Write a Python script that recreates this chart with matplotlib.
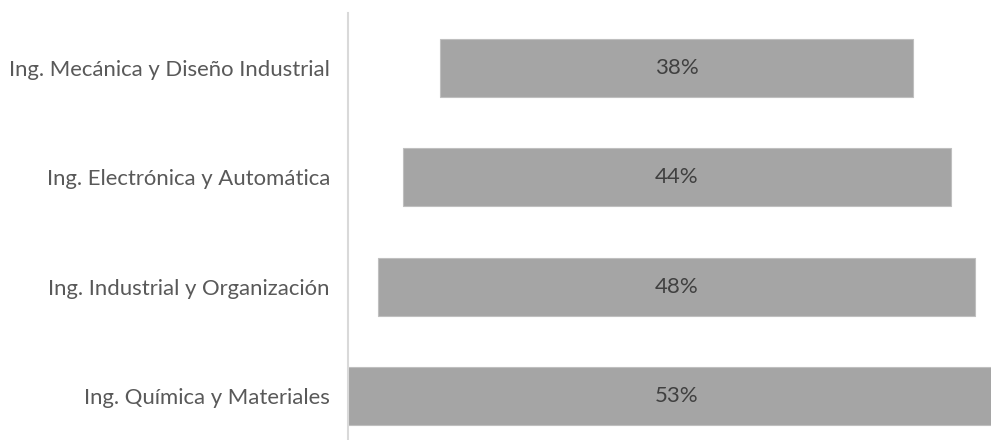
import matplotlib.pyplot as plt

carreras = ['Ing. Química y Materiales', 'Ing. Industrial y Organización',
            'Ing. Electrónica y Automática', 'Ing. Mecánica y Diseño Industrial']
porcentajes = [53, 48, 44, 38]

plt.rcParams['font.family'] = ['Lato', 'DejaVu Sans']

fig = plt.figure(figsize=(9.91, 4.4), dpi=100)
ax = fig.add_axes([348 / 991, 0, 1 - 348 / 991, 1 - 13 / 440])

# barras centradas (embudo)
centro = 26.4
izq = [centro - p / 2 for p in porcentajes]
ys = range(len(carreras))
ax.barh(ys, porcentajes, left=izq, height=0.53, color='#a5a5a5',
        edgecolor='#bfbfbf', linewidth=0.8)
for y, p in zip(ys, porcentajes):
    ax.text(centro, y, f'{p}%', ha='center', va='center', fontsize=16, color='#404040')

ax.set_xlim(0, 643 / 12.45)
ax.set_ylim(-0.40, 3.5)
ax.set_yticks(list(ys))
ax.set_yticklabels(carreras, fontsize=15.9, color='#595959')
ax.tick_params(axis='y', length=0, pad=13)
ax.set_xticks([])
for s in ['top', 'right', 'bottom']:
    ax.spines[s].set_visible(False)
ax.spines['left'].set_color('#d9d9d9')
ax.spines['left'].set_linewidth(1.5)

fig.savefig('out.png', dpi=100)
